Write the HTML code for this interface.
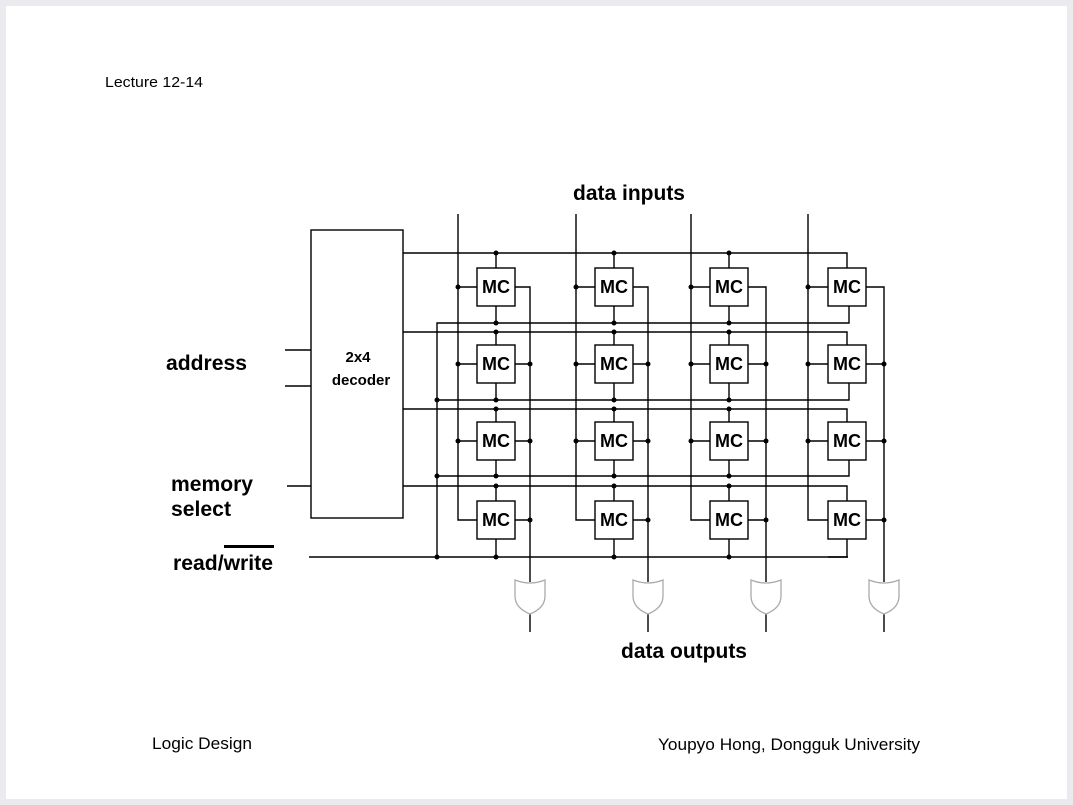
<!DOCTYPE html>
<html><head><style>
html,body{margin:0;padding:0;background:#ebebef;}
svg{display:block}
text{font-family:"Liberation Sans",Arial,sans-serif;}
</style></head><body>
<svg width="1073" height="805" viewBox="0 0 1073 805" xmlns="http://www.w3.org/2000/svg">
<rect x="6" y="6" width="1061" height="793" fill="#fff"/>
<text x="105" y="87" font-size="15" textLength="98" lengthAdjust="spacingAndGlyphs">Lecture 12-14</text>
<text x="573" y="200" font-size="21" font-weight="bold" textLength="112" lengthAdjust="spacingAndGlyphs">data inputs</text>
<text x="166" y="370" font-size="21" font-weight="bold" textLength="81" lengthAdjust="spacingAndGlyphs">address</text>
<text x="171" y="491" font-size="21" font-weight="bold" textLength="82" lengthAdjust="spacingAndGlyphs">memory</text>
<text x="171" y="516" font-size="21" font-weight="bold" textLength="60" lengthAdjust="spacingAndGlyphs">select</text>
<text x="173" y="570" font-size="21" font-weight="bold" textLength="100" lengthAdjust="spacingAndGlyphs">read/write</text>
<rect x="224" y="545" width="50" height="3" fill="#000"/>
<text x="621" y="658" font-size="21" font-weight="bold" textLength="126" lengthAdjust="spacingAndGlyphs">data outputs</text>
<text x="152" y="749" font-size="17" textLength="100" lengthAdjust="spacingAndGlyphs">Logic Design</text>
<text x="658" y="750" font-size="17" textLength="262" lengthAdjust="spacingAndGlyphs">Youpyo Hong, Dongguk University</text>

<g stroke="#000" stroke-width="1.4" fill="none">
<rect x="311" y="230" width="92" height="288"/>
<path d="M285 350H311M285 386H311M287 486H311M309 557H848"/>
<path d="M403 253H847V268M403 332H847V345M403 409H847V422M403 486H847V501"/>
<path d="M437 557V323H849V306M437 400H849V383M437 476H849V460M828 557H847V539"/>
<path d="M458 214V520H477M458 287H477M458 364H477M458 441H477M515 287H530V582M515 364H530M515 441H530M515 520H530M496 253V268M496 306V323M496 332V345M496 383V400M496 409V422M496 460V476M496 486V501M496 539V557"/>
<path d="M576 214V520H595M576 287H595M576 364H595M576 441H595M633 287H648V582M633 364H648M633 441H648M633 520H648M614 253V268M614 306V323M614 332V345M614 383V400M614 409V422M614 460V476M614 486V501M614 539V557"/>
<path d="M691 214V520H710M691 287H710M691 364H710M691 441H710M748 287H766V582M748 364H766M748 441H766M748 520H766M729 253V268M729 306V323M729 332V345M729 383V400M729 409V422M729 460V476M729 486V501M729 539V557"/>
<path d="M808 214V520H828M808 287H828M808 364H828M808 441H828M866 287H884V582M866 364H884M866 441H884M866 520H884"/>
<path d="M530 614V632M648 614V632M766 614V632M884 614V632"/>
</g>
<g fill="#fff" stroke="#000" stroke-width="1.4">
<rect x="477" y="268" width="38" height="38"/><rect x="595" y="268" width="38" height="38"/><rect x="710" y="268" width="38" height="38"/><rect x="828" y="268" width="38" height="38"/>
<rect x="477" y="345" width="38" height="38"/><rect x="595" y="345" width="38" height="38"/><rect x="710" y="345" width="38" height="38"/><rect x="828" y="345" width="38" height="38"/>
<rect x="477" y="422" width="38" height="38"/><rect x="595" y="422" width="38" height="38"/><rect x="710" y="422" width="38" height="38"/><rect x="828" y="422" width="38" height="38"/>
<rect x="477" y="501" width="38" height="38"/><rect x="595" y="501" width="38" height="38"/><rect x="710" y="501" width="38" height="38"/><rect x="828" y="501" width="38" height="38"/>
</g>
<g fill="none" stroke="#aaa" stroke-width="1.3">
<path d="M515 580Q530 586 545 580V596Q545 608 530 614Q515 608 515 596Z"/>
<path d="M633 580Q648 586 663 580V596Q663 608 648 614Q633 608 633 596Z"/>
<path d="M751 580Q766 586 781 580V596Q781 608 766 614Q751 608 751 596Z"/>
<path d="M869 580Q884 586 899 580V596Q899 608 884 614Q869 608 869 596Z"/>
</g>
<g font-size="18" font-weight="bold" text-anchor="middle">
<text x="496" y="293">MC</text><text x="614" y="293">MC</text><text x="729" y="293">MC</text><text x="847" y="293">MC</text>
<text x="496" y="370">MC</text><text x="614" y="370">MC</text><text x="729" y="370">MC</text><text x="847" y="370">MC</text>
<text x="496" y="447">MC</text><text x="614" y="447">MC</text><text x="729" y="447">MC</text><text x="847" y="447">MC</text>
<text x="496" y="526">MC</text><text x="614" y="526">MC</text><text x="729" y="526">MC</text><text x="847" y="526">MC</text>
</g>
<text x="358" y="362" font-size="15" font-weight="bold" text-anchor="middle">2x4</text>
<text x="361" y="385" font-size="15" font-weight="bold" text-anchor="middle">decoder</text>
<g fill="#000">
<circle cx="437" cy="400" r="2.5"/><circle cx="437" cy="476" r="2.5"/><circle cx="437" cy="557" r="2.5"/>
<circle cx="458" cy="287" r="2.5"/><circle cx="458" cy="364" r="2.5"/><circle cx="458" cy="441" r="2.5"/>
<circle cx="576" cy="287" r="2.5"/><circle cx="576" cy="364" r="2.5"/><circle cx="576" cy="441" r="2.5"/>
<circle cx="691" cy="287" r="2.5"/><circle cx="691" cy="364" r="2.5"/><circle cx="691" cy="441" r="2.5"/>
<circle cx="808" cy="287" r="2.5"/><circle cx="808" cy="364" r="2.5"/><circle cx="808" cy="441" r="2.5"/>
<circle cx="530" cy="364" r="2.5"/><circle cx="530" cy="441" r="2.5"/><circle cx="530" cy="520" r="2.5"/>
<circle cx="648" cy="364" r="2.5"/><circle cx="648" cy="441" r="2.5"/><circle cx="648" cy="520" r="2.5"/>
<circle cx="766" cy="364" r="2.5"/><circle cx="766" cy="441" r="2.5"/><circle cx="766" cy="520" r="2.5"/>
<circle cx="884" cy="364" r="2.5"/><circle cx="884" cy="441" r="2.5"/><circle cx="884" cy="520" r="2.5"/>
<circle cx="496" cy="253" r="2.5"/><circle cx="496" cy="323" r="2.5"/><circle cx="496" cy="332" r="2.5"/><circle cx="496" cy="400" r="2.5"/><circle cx="496" cy="409" r="2.5"/><circle cx="496" cy="476" r="2.5"/><circle cx="496" cy="486" r="2.5"/><circle cx="496" cy="557" r="2.5"/>
<circle cx="614" cy="253" r="2.5"/><circle cx="614" cy="323" r="2.5"/><circle cx="614" cy="332" r="2.5"/><circle cx="614" cy="400" r="2.5"/><circle cx="614" cy="409" r="2.5"/><circle cx="614" cy="476" r="2.5"/><circle cx="614" cy="486" r="2.5"/><circle cx="614" cy="557" r="2.5"/>
<circle cx="729" cy="253" r="2.5"/><circle cx="729" cy="323" r="2.5"/><circle cx="729" cy="332" r="2.5"/><circle cx="729" cy="400" r="2.5"/><circle cx="729" cy="409" r="2.5"/><circle cx="729" cy="476" r="2.5"/><circle cx="729" cy="486" r="2.5"/><circle cx="729" cy="557" r="2.5"/>
</g>
</svg>
</body></html>
